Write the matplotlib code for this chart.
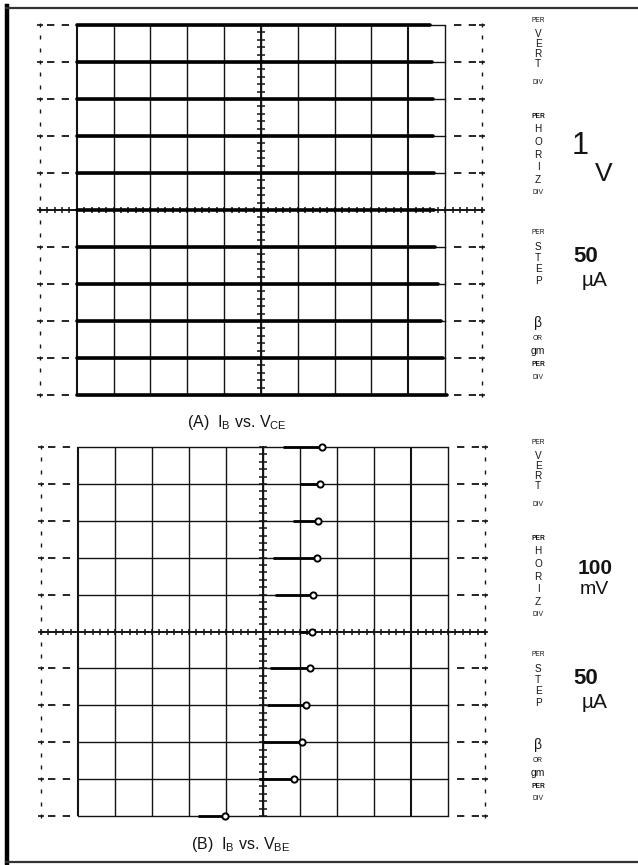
import numpy as np
import matplotlib.pyplot as plt

plt.rcParams['font.family'] = ['Liberation Sans', 'DejaVu Sans']
plt.rcParams['mathtext.fontset'] = 'custom'
plt.rcParams['mathtext.rm'] = 'Liberation Sans'
plt.rcParams['lines.scale_dashes'] = False

W, H = 638, 865

# base current step number of each trace (0 = bottom graticule line)
steps = [0, 1, 2, 3, 4, 5, 6, 7, 8, 9, 10]

# (A) IB vs VCE: end of each flat trace, horizontal divisions
vce_end = [10.05, 9.95, 9.9, 9.8, 9.73, 9.7, 9.7, 9.67, 9.67, 9.65, 9.6]

# (B) IB vs VBE: start and end (dot) of each short trace, horizontal divisions
vbe_start = [3.24, 4.9, 5.0, 5.1, 5.19, 6.0, 5.32, 5.27, 5.81, 6.0, 5.54]
vbe_end = [3.97, 5.84, 6.05, 6.16, 6.27, 6.32, 6.35, 6.46, 6.49, 6.54, 6.59]

ink = '#141414'


def fx(x):
    return x / W


def fy(y):
    return 1 - y / H


def draw_graticule(ax):
    # main 10 x 10 divisions
    for k in range(11):
        lw = 1.5 if k in (0, 9) else 1.0
        ax.plot([k, k], [0, 10], color=ink, lw=lw, solid_capstyle='butt', clip_on=False)
        if k == 5:
            continue
        ax.plot([0, 10], [k, k], color=ink, lw=1.0, clip_on=False)
        # dashed stubs out to the outer frame
        ax.plot([-0.8, -0.2], [k, k], color=ink, lw=1.3, ls=(0, (5.3, 5.3)), clip_on=False)
        ax.plot([10.25, 10.85], [k, k], color=ink, lw=1.3, ls=(0, (5.3, 5.3)), clip_on=False)

    # centre lines with minor ticks every 1/5 division
    ax.plot([-1, 11], [5, 5], color=ink, lw=1.4, clip_on=False)
    ax.plot([5, 5], [0, 10], color=ink, lw=1.4, clip_on=False)
    mh = np.arange(-1, 11.01, 0.2)
    ax.plot(mh, np.full_like(mh, 5.0), ls='none', marker='|', ms=5, mew=1.1, color=ink, clip_on=False)
    mv = np.arange(0, 10.01, 0.2)
    ax.plot(np.full_like(mv, 5.0), mv, ls='none', marker='_', ms=6, mew=1.1, color=ink, clip_on=False)

    # outer dotted frame
    mf = np.arange(0, 10.01, 1 / 3)
    for xe in (-1, 11):
        ax.plot(np.full_like(mf, xe), mf, ls='none', marker='|', ms=3.5, mew=1.0, color=ink, clip_on=False)
        ax.plot(np.full(11, xe), steps, ls='none', marker='_', ms=4, mew=1.2, color=ink, clip_on=False)

    ax.set_xlim(-1, 11)
    ax.set_ylim(0, 10)
    ax.axis('off')


def draw_labels(top, big1, big2, big1_pos, big2_pos, big_fs, big1_weight):
    small = dict(ha='center', va='center', fontsize=4.8, color=ink)
    letter = dict(ha='center', va='center', fontsize=7.2, color=ink)
    cx = 538
    fig.text(fx(cx), fy(top + 21), 'PER', **small)
    for ch, y in zip('VERT', [34, 44, 54, 64]):
        fig.text(fx(cx), fy(top + y), ch, **letter)
    fig.text(fx(cx), fy(top + 83), 'DIV', **small)
    fig.text(fx(cx), fy(top + 117), 'PER', fontweight='bold', **small)
    for ch, y in zip('HORIZ', [129, 142, 155, 167, 180]):
        fig.text(fx(cx), fy(top + y), ch, **letter)
    fig.text(fx(cx), fy(top + 193), 'DIV', **small)

    fig.text(fx(big1_pos[0]), fy(top + big1_pos[1]), big1, ha='center', va='center',
             fontsize=big_fs[0], fontweight=big1_weight, color=ink)
    fig.text(fx(big2_pos[0]), fy(top + big2_pos[1]), big2, ha='center', va='center',
             fontsize=big_fs[1], color=ink)

    fig.text(fx(cx), fy(top + 233), 'PER', **small)
    for ch, y in zip('STEP', [247, 258, 269, 281]):
        fig.text(fx(cx), fy(top + y), ch, **letter)
    fig.text(fx(586), fy(top + 256), '50', ha='center', va='center', fontsize=16,
             fontweight='bold', color=ink)
    fig.text(fx(595), fy(top + 280), 'µA', ha='center', va='center', fontsize=15, color=ink)

    fig.text(fx(cx), fy(top + 323), 'β', ha='center', va='center', fontsize=10, color=ink)
    fig.text(fx(cx), fy(top + 338), 'OR', **small)
    fig.text(fx(cx), fy(top + 351), 'gm', ha='center', va='center', fontsize=7.5, color=ink)
    fig.text(fx(cx), fy(top + 364), 'PER', fontweight='bold', **small)
    fig.text(fx(cx), fy(top + 377), 'DIV', **small)


fig = plt.figure(figsize=(W / 100, H / 100), dpi=100)

# page border
fig.add_artist(plt.Line2D([fx(7), fx(7)], [fy(6), fy(863)], color='black', lw=3.2))
fig.add_artist(plt.Line2D([fx(6), fx(638)], [fy(8), fy(8)], color='#333333', lw=1.6))
fig.add_artist(plt.Line2D([fx(6), fx(638)], [fy(862), fy(862)], color='#333333', lw=1.6))

# (A) IB vs VCE
axA = fig.add_axes([fx(40), fy(395), (482 - 40) / W, (395 - 25) / H])
draw_graticule(axA)
for s, e in zip(steps, vce_end):
    axA.plot([0, e], [s, s], color='black', lw=2.6, solid_capstyle='round', clip_on=False)
draw_labels(0, '1', 'V', (580, 146), (604, 174), (22, 19), 'normal')
fig.text(fx(237), fy(422), r'(A)  I$_{\mathrm{B}}$ vs. V$_{\mathrm{CE}}$', ha='center', va='center',
         fontsize=11.5, color=ink)

# (B) IB vs VBE
axB = fig.add_axes([fx(41), fy(816), (485 - 41) / W, (816 - 447) / H])
draw_graticule(axB)
for s, a, e in zip(steps, vbe_start, vbe_end):
    axB.plot([a, e], [s, s], color='black', lw=2.0, solid_capstyle='butt', clip_on=False)
axB.plot(vbe_end, steps, ls='none', marker='o', ms=4.5, mfc='white', mec='black', mew=1.4, clip_on=False)
draw_labels(422, '100', 'mV', (595, 147), (594, 168), (15, 14), 'bold')
fig.text(fx(241), fy(845), r'(B)  I$_{\mathrm{B}}$ vs. V$_{\mathrm{BE}}$', ha='center', va='center',
         fontsize=11.5, color=ink)

fig.savefig('out.png', dpi=100, facecolor='white')
